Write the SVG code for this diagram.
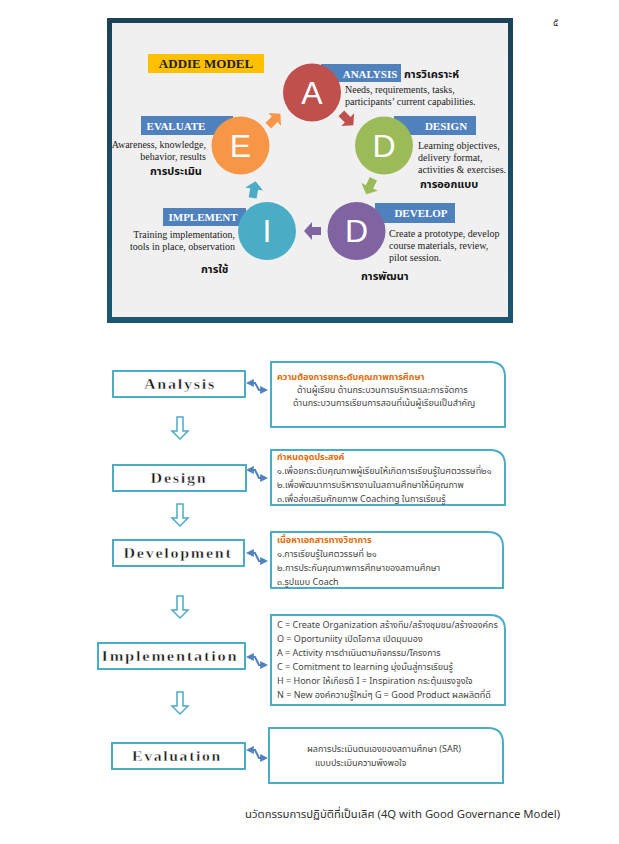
<svg xmlns="http://www.w3.org/2000/svg" width="619" height="844" viewBox="0 0 619 844">
<defs>
<style>
.th{font-family:"Noto Sans Thai","Noto Sans","Liberation Sans",sans-serif;}
.lab{font-family:"Liberation Serif",serif;font-weight:bold;font-size:11px;fill:#fff;text-anchor:middle;}
.desc{font-family:"Liberation Serif",serif;font-size:10px;fill:#222;}
.thb{font-family:"Noto Sans Thai","Noto Sans","Liberation Sans",sans-serif;font-weight:bold;font-size:11px;fill:#111;}
.circ{font-family:"Liberation Sans",sans-serif;font-size:32px;fill:#fff;text-anchor:middle;}
.bluebox{fill:#4f81bd;}
.lbox{fill:#fff;stroke:#4bacc6;stroke-width:2;}
.rbox{fill:#fff;stroke:#4bacc6;stroke-width:2;}
.step{font-family:"Liberation Serif",serif;font-weight:bold;font-size:14px;fill:#111;stroke:#fff;stroke-width:0.4;text-anchor:middle;letter-spacing:1.5px;}
.head{font-family:"Noto Sans Thai","Noto Sans","Liberation Sans",sans-serif;font-weight:bold;font-size:9px;fill:#e36c09;}
.body{font-family:"Noto Sans Thai","Noto Sans","Liberation Sans",sans-serif;font-size:9px;fill:#444;}
.dn{fill:#fff;stroke:#4bacc6;stroke-width:1.5;}
.dbl{fill:none;stroke:#4f81bd;stroke-width:2;}
</style>
<marker id="ah" viewBox="0 0 10 10" refX="6" refY="5" markerWidth="4" markerHeight="4" orient="auto-start-reverse">
<path d="M0,0 L10,5 L0,10 z" fill="#4f81bd"/>
</marker>
<linearGradient id="frame" x1="0" y1="0" x2="0" y2="1">
<stop offset="0" stop-color="#1b4257"/>
<stop offset="1" stop-color="#1d5672"/>
</linearGradient>
</defs>
<rect width="619" height="844" fill="#fff"/>
<text x="553" y="26" class="th" font-size="10" fill="#333">๕</text>

<!-- Top ADDIE picture -->
<g id="addie-picture">
<rect x="107" y="18" width="406" height="305" fill="url(#frame)"/>
<rect x="112" y="23" width="396" height="294" fill="#f0f0f0"/>
<rect x="148" y="54" width="116" height="19" fill="#ffc000"/>
<text x="206" y="68" font-family="Liberation Serif, serif" font-weight="bold" font-size="13" fill="#222" text-anchor="middle">ADDIE MODEL</text>
</g>

<g id="connectors-top">
<polygon points="-8,-4 1,-4 1,-9 9,0 1,9 1,4 -8,4" fill="#f79646" transform="translate(274,120) rotate(-45)"/>
<polygon points="-8,-4 1,-4 1,-9 9,0 1,9 1,4 -8,4" fill="#c0504d" transform="translate(347,119) rotate(45)"/>
<polygon points="-8,-4 1,-4 1,-9 9,0 1,9 1,4 -8,4" fill="#9bbb59" transform="translate(370,186) rotate(115)"/>
<polygon points="-8,-4 1,-4 1,-9 9,0 1,9 1,4 -8,4" fill="#8064a2" transform="translate(313,231) rotate(180)"/>
<polygon points="-8,-4 1,-4 1,-9 9,0 1,9 1,4 -8,4" fill="#4bacc6" transform="translate(254,190) rotate(-80)"/>
</g>

<g id="node-A">
<rect x="321" y="64" width="80" height="18" class="bluebox"/>
<circle cx="312" cy="92.5" r="29" fill="#c0504d"/>
<text x="312" y="104" class="circ">A</text>
<text x="370" y="78" class="lab">ANALYSIS</text>
<text x="404" y="78" class="thb">การวิเคราะห์</text>
<text x="345" y="93" class="desc">Needs, requirements, tasks,</text>
<text x="345" y="105" class="desc">participants’ current capabilities.</text>
</g>

<g id="node-D1">
<rect x="394" y="116" width="82" height="19" class="bluebox"/>
<circle cx="384" cy="145.5" r="29" fill="#9bbb59"/>
<text x="384" y="157" class="circ">D</text>
<text x="446" y="130" class="lab">DESIGN</text>
<text x="418" y="149" class="desc">Learning objectives,</text>
<text x="418" y="161" class="desc">delivery format,</text>
<text x="418" y="173" class="desc">activities &amp; exercises.</text>
<text x="420" y="188" class="thb">การออกแบบ</text>
</g>

<g id="node-E">
<rect x="141" y="116" width="92" height="19" class="bluebox"/>
<circle cx="240.5" cy="145.5" r="29" fill="#f79646"/>
<text x="240.5" y="157" class="circ">E</text>
<text x="176" y="130" class="lab">EVALUATE</text>
<text x="206" y="148" class="desc" text-anchor="end">Awareness, knowledge,</text>
<text x="206" y="160" class="desc" text-anchor="end">behavior, results</text>
<text x="150" y="175" class="thb">การประเมิน</text>
</g>

<g id="node-I">
<rect x="163" y="208" width="83" height="18" class="bluebox"/>
<circle cx="267" cy="231" r="29" fill="#4bacc6"/>
<text x="267" y="242" class="circ">I</text>
<text x="203" y="221" class="lab">IMPLEMENT</text>
<text x="235" y="238" class="desc" text-anchor="end">Training implementation,</text>
<text x="235" y="250" class="desc" text-anchor="end">tools in place, observation</text>
<text x="201" y="273" class="thb">การใช้</text>
</g>

<g id="node-D2">
<rect x="375" y="203" width="80" height="20" class="bluebox"/>
<circle cx="356.5" cy="231" r="29" fill="#8064a2"/>
<text x="356.5" y="242" class="circ">D</text>
<text x="421" y="217" class="lab">DEVELOP</text>
<text x="389" y="237" class="desc">Create a prototype, develop</text>
<text x="389" y="249" class="desc">course  materials, review,</text>
<text x="389" y="261" class="desc">pilot session.</text>
<text x="361" y="280" class="thb">การพัฒนา</text>
</g>

<!-- Flowchart -->
<g id="connectors">
<path d="M249,383 L255,383 L259,390 L265,390" class="dbl" marker-start="url(#ah)" marker-end="url(#ah)"/>
<path d="M249,470 L255,470 L259,478 L265,478" class="dbl" marker-start="url(#ah)" marker-end="url(#ah)"/>
<path d="M249,553 L255,553 L259,561 L265,561" class="dbl" marker-start="url(#ah)" marker-end="url(#ah)"/>
<path d="M249,657 L255,657 L259,665 L265,665" class="dbl" marker-start="url(#ah)" marker-end="url(#ah)"/>
<path d="M249,750 L255,750 L259,758 L265,758" class="dbl" marker-start="url(#ah)" marker-end="url(#ah)"/>
<polygon points="177,417 183,417 183,431 188,431 180,439 172,431 177,431" class="dn"/>
<polygon points="177,504 183,504 183,518 188,518 180,526 172,518 177,518" class="dn"/>
<polygon points="177,596 183,596 183,610 188,610 180,618 172,610 177,610" class="dn"/>
<polygon points="177,692 183,692 183,706 188,706 180,714 172,706 177,706" class="dn"/>
</g>

<g id="analysis">
<rect x="113" y="371" width="132" height="26" class="lbox"/>
<text x="180" y="389" class="step" textLength="72" lengthAdjust="spacingAndGlyphs">Analysis</text>
</g>
<g id="analysis-detail">
<path d="M271,362 H490 Q505,362 505,377 V427 H271 Z" class="rbox"/>
<text x="277" y="380" class="head">ความต้องการยกระดับคุณภาพการศึกษา</text>
<text x="297" y="393" class="body">ด้านผู้เรียน ด้านกระบวนการบริหารและการจัดการ</text>
<text x="293" y="406" class="body">ด้านกระบวนการเรียนการสอนที่เน้นผู้เรียนเป็นสำคัญ</text>
</g>

<g id="design">
<rect x="113" y="465" width="133" height="26" class="lbox"/>
<text x="179" y="483" class="step" textLength="57" lengthAdjust="spacingAndGlyphs">Design</text>
</g>
<g id="design-detail">
<path d="M271,450 H490 Q505,450 505,465 V505 H271 Z" class="rbox"/>
<text x="277" y="460" class="head">กำหนดจุดประสงค์</text>
<text x="277" y="474" class="body">๑.เพื่อยกระดับคุณภาพผู้เรียนให้เกิดการเรียนรู้ในศตวรรษที่๒๑</text>
<text x="277" y="488" class="body">๒.เพื่อพัฒนาการบริหารงานในสถานศึกษาให้มีคุณภาพ</text>
<text x="277" y="502" class="body">๓.เพื่อส่งเสริมศักยภาพ  Coaching ในการเรียนรู้</text>
</g>

<g id="development">
<rect x="113" y="540" width="131" height="26" class="lbox"/>
<text x="178" y="558" class="step" textLength="109" lengthAdjust="spacingAndGlyphs">Development</text>
</g>
<g id="development-detail">
<path d="M271,532 H488 Q503,532 503,547 V588 H271 Z" class="rbox"/>
<text x="277" y="543" class="head">เนื้อหาเอกสารทางวิชาการ</text>
<text x="277" y="557" class="body">๑.การเรียนรู้ในศตวรรษที่ ๒๑</text>
<text x="277" y="571" class="body">๒.การประกันคุณภาพการศึกษาของสถานศึกษา</text>
<text x="277" y="585" class="body">๓.รูปแบบ Coach</text>
</g>

<g id="implementation">
<rect x="98" y="643" width="147" height="26" class="lbox"/>
<text x="170" y="661" class="step" textLength="137" lengthAdjust="spacingAndGlyphs">Implementation</text>
</g>
<g id="implementation-detail">
<path d="M271,615 H490 Q505,615 505,630 V705 H271 Z" class="rbox"/>
<text x="277" y="628" class="body">C = Create Organization สร้างทีม/สร้างชุมชน/สร้างองค์กร</text>
<text x="277" y="642" class="body">O = Oportuniity เปิดโอกาส เปิดมุมมอง</text>
<text x="277" y="656" class="body">A = Activity การดำเนินตามกิจกรรม/โครงการ</text>
<text x="277" y="670" class="body">C = Comitment to learning มุ่งมั่นสู่การเรียนรู้</text>
<text x="277" y="684" class="body">H = Honor ให้เกียรติ I = Inspiration กระตุ้นแรงจูงใจ</text>
<text x="277" y="698" class="body">N = New องค์ความรู้ใหม่ๆ G = Good Product ผลผลิตที่ดี</text>
</g>

<g id="evaluation">
<rect x="112" y="743" width="133" height="26" class="lbox"/>
<text x="177" y="761" class="step" textLength="90" lengthAdjust="spacingAndGlyphs">Evaluation</text>
</g>
<g id="evaluation-detail">
<path d="M269,728 H488 Q503,728 503,743 V783 H269 Z" class="rbox"/>
<text x="307" y="752" class="body">ผลการประเมินตนเองของสถานศึกษา  (SAR)</text>
<text x="315" y="766" class="body">แบบประเมินความพึงพอใจ</text>
</g>

<text x="245" y="818" class="th" font-size="11.3" fill="#333">นวัตกรรมการปฏิบัติที่เป็นเลิศ (4Q with Good Governance Model)</text>
</svg>
